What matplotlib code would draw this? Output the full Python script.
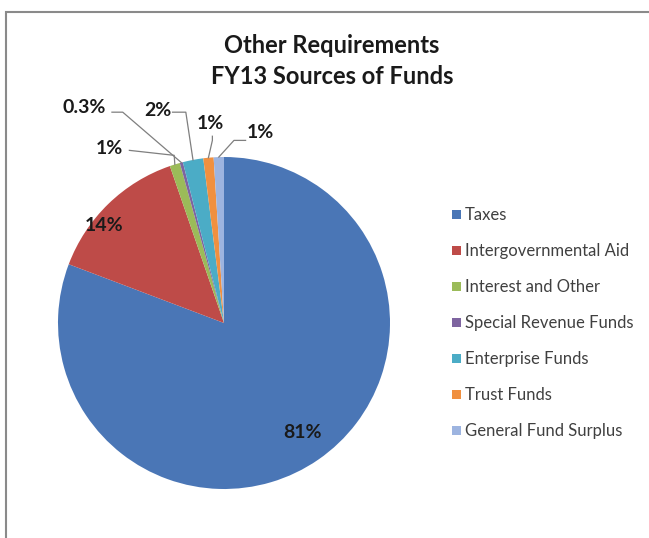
import numpy as np
import matplotlib
matplotlib.use("Agg")
import matplotlib.pyplot as plt
from matplotlib.patches import Rectangle

plt.rcParams['font.family'] = ['Lato', 'DejaVu Sans']

# sources of funds, FY13 (percent of total)
categories = ["Taxes", "Intergovernmental Aid", "Interest and Other",
              "Special Revenue Funds", "Enterprise Funds", "Trust Funds",
              "General Fund Surplus"]
shares = [81, 14, 1, 0.3, 2, 1, 1]
pct_labels = ["81%", "14%", "1%", "0.3%", "2%", "1%", "1%"]

colors = ["#4A76B6", "#BE4B48", "#9BBB59", "#7E64A0",
          "#4BACC6", "#F09040", "#9DB4E0"]

# label placement (data coords, pie radius = 1); None = no leader line
label_pos = [(0.47, -0.66), (-0.72, 0.59), (-0.69, 1.05), (-0.84, 1.30),
             (-0.40, 1.28), (-0.08, 1.20), (0.22, 1.145)]
starts = [None, None, (-0.57, 1.04), (-0.675, 1.27),
          (-0.31, 1.27), (-0.07, 1.125), (0.13, 1.10)]
elbows = [None, None, (-0.30, 1.01), (-0.61, 1.27),
          (-0.23, 1.27), (-0.07, 1.10), (0.06, 1.10)]

W, H = 649, 538
fig = plt.figure(figsize=(W / 100, H / 100), dpi=100)

# outer chart frame
fig.patches.append(Rectangle((6 / W, -0.05), 1.1, 1 - 12 / H + 0.05,
                             transform=fig.transFigure, fill=False,
                             edgecolor="#8a8a8a", lw=1.5))

cx, cy, r = 224, 323, 166
ax = fig.add_axes([(cx - r) / W, (H - cy - r) / H, 2 * r / W, 2 * r / H])
wedges, _ = ax.pie(shares, colors=colors, startangle=90, counterclock=False,
                   radius=1, wedgeprops=dict(linewidth=0))
ax.set_xlim(-1, 1)
ax.set_ylim(-1, 1)
ax.set_aspect("equal")
ax.axis("off")

for i, w in enumerate(wedges):
    tx, ty = label_pos[i]
    ax.text(tx, ty, pct_labels[i], ha="center", va="center",
            fontsize=14, fontweight="bold", color="#1a1a1a", clip_on=False)
    if elbows[i] is not None:
        mid = np.deg2rad((w.theta1 + w.theta2) / 2)
        px, py = np.cos(mid), np.sin(mid)
        xs = [starts[i][0], elbows[i][0], px]
        ys = [starts[i][1], elbows[i][1], py]
        ax.plot(xs, ys, color="#7f7f7f", lw=0.9, clip_on=False)

fig.text(332 / W, 1 - 46 / H, "Other Requirements", ha="center", va="center",
         fontsize=17, fontweight="bold", color="#1a1a1a")
fig.text(332 / W, 1 - 77 / H, "FY13 Sources of Funds", ha="center",
         va="center", fontsize=17, fontweight="bold", color="#1a1a1a")

fig.legend(wedges, categories, loc="upper left",
           bbox_to_anchor=(444 / W, 1 - 199 / H), frameon=False,
           fontsize=12, labelspacing=1.2, handlelength=0.5,
           handleheight=0.5, handletextpad=0.25, borderpad=0,
           labelcolor="#404040")

fig.savefig("out.png", dpi=100)
